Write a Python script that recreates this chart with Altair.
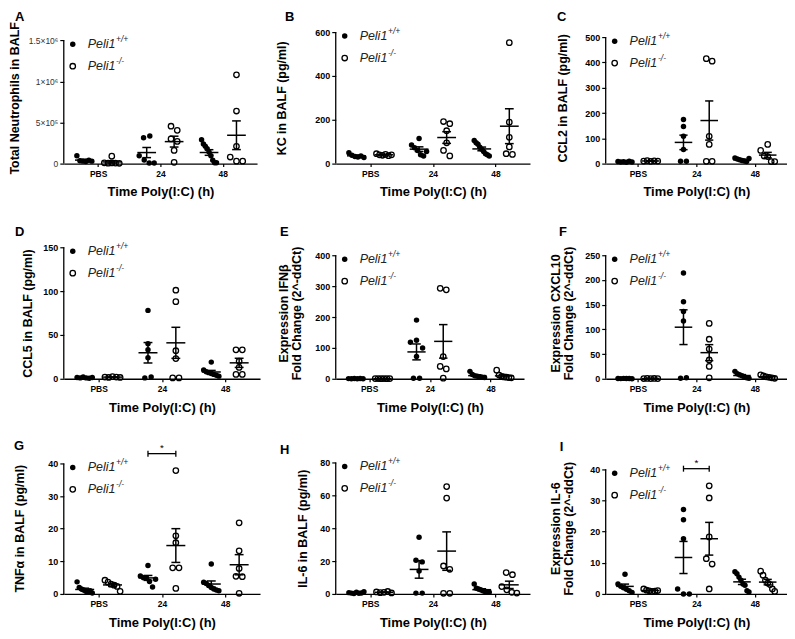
import altair as alt
import pandas as pd
import numpy as np

FONT = "Liberation Sans"
GROUPS = ["PBS", "24", "48"]

# ---- data: wild type = Peli1+/+, knockout = Peli1-/- ----
A_WT = {"PBS": [95000, 35000, 30000, 25000, 40000, 30000],
        "24": [315000, 335000, 95000, 45000, 8000, 8000],
        "48": [290000, 240000, 210000, 180000, 140000, 95000, 40000, 10000, 10000]}
A_KO = {"PBS": [90000, 10000, 5000, 8000, 6000, 4000],
        "24": [455000, 405000, 300000, 270000, 160000, 15000],
        "48": [1080000, 640000, 210000, 80000, 30000, 30000]}

B_WT = {"PBS": [50, 38, 32, 30, 35, 28],
        "24": [115, 85, 72, 60, 40, 35, 55],
        "48": [105, 95, 88, 75, 65, 55, 45, 40, 35]}
B_KO = {"PBS": [45, 40, 38, 42, 36, 40],
        "24": [192, 182, 150, 95, 60, 35],
        "48": [552, 189, 120, 76, 45, 42]}

C_WT = {"PBS": [8, 6, 7, 5, 9, 6],
        "24": [174, 147, 108, 56, 9, 9],
        "48": [22, 18, 15, 12, 10, 8, 20]}
C_KO = {"PBS": [10, 12, 9, 11, 10],
        "24": [415, 405, 108, 76, 9, 9],
        "48": [76, 52, 30, 28, 8, 8]}

D_WT = {"PBS": [1.5, 1, 2, 1, 0.5, 1.5],
        "24": [78, 40, 33, 24, 1, 2],
        "48": [19, 10, 8, 7, 6, 5, 4, 3]}
D_KO = {"PBS": [2, 1.5, 2.5, 2, 1.5],
        "24": [101, 88, 32, 23, 1, 1],
        "48": [33, 33, 20, 13, 5, 5]}

E_WT = {"PBS": [0.5, 0.3, 0.8, 0.4, 0.6, 0.2],
        "24": [190, 118, 125, 100, 72, 2, 2],
        "48": [24, 14, 10, 8, 6, 5, 4]}
E_KO = {"PBS": [0.5, 0.8, 0.4, 0.6, 0.3, 0.7],
        "24": [293, 288, 72, 40, 32, 2],
        "48": [28, 12, 8, 6, 5, 4, 3]}

F_WT = {"PBS": [0.5, 0.3, 0.8, 0.4, 0.6, 0.2],
        "24": [214, 156, 136, 117, 1, 2],
        "48": [15, 10, 8, 6, 4, 2, 1]}
F_KO = {"PBS": [0.5, 0.8, 0.4, 0.6, 0.3],
        "24": [112, 80, 60, 38, 25, 2],
        "48": [8, 6, 4, 3, 2, 1]}

G_WT = {"PBS": [3.7, 2.0, 1.5, 1.2, 0.8, 0.5, 1.0, 0.3],
        "24": [8.7, 5.5, 5.0, 4.8, 3.8, 2.1, 4.5],
        "48": [9.2, 3.6, 3.2, 2.6, 2.0, 1.5, 1.2, 1.0]}
G_KO = {"PBS": [4.2, 3.6, 3.0, 2.7, 2.3, 0.8],
        "24": [37.8, 17.8, 15.7, 8.0, 8.0, 1.7],
        "48": [21.8, 13.2, 7.8, 5.4, 5.3, 0.2]}

H_WT = {"PBS": [0.8, 0.5, 0.3, 1.0, 0.4, 0.6, 1.3],
        "24": [34.5, 20.5, 19.5, 14.0, 0.5, 0.5],
        "48": [6, 3.5, 3, 2.5, 2, 1.5, 1.2, 1]}
H_KO = {"PBS": [1.2, 0.8, 1.0, 1.5, 0.6],
        "24": [65.3, 58.3, 17, 15, 0.4, 0.4],
        "48": [13, 11.7, 4.5, 2.5, 1.0, 0.5]}

I_WT = {"PBS": [6.3, 3.2, 2.5, 2.0, 1.5, 1.0, 0.5],
        "24": [27.1, 23.8, 17.7, 1.6, 0, 0],
        "48": [7.1, 6.5, 5.4, 4.4, 3.2, 2.8, 1.0, 0.6]}
I_KO = {"PBS": [1.6, 1.2, 1.0, 0.8, 0.9, 1.1],
        "24": [34.7, 30.8, 18.3, 11.3, 9.6, 1.6],
        "48": [7.3, 6.0, 4.4, 3.5, 3.0, 1.6, 0.8]}

A_TICKS = [0, 500000, 1000000, 1500000]
A_TICK_LABELS = ["0", "5×10⁵", "1×10⁶", "1.5×10⁶"]
B_TICKS = [0, 200, 400, 600]
C_TICKS = [0, 100, 200, 300, 400, 500]
D_TICKS = [0, 50, 100, 150]
E_TICKS = [0, 100, 200, 300, 400]
F_TICKS = [0, 50, 100, 150, 200, 250]
G_TICKS = [0, 10, 20, 30, 40]
H_TICKS = [0, 20, 40, 60, 80]
I_TICKS = [0, 10, 20, 30, 40]

# significance brackets: (time point, bracket height)
G_SIG = ("24", 43)
I_SIG = ("24", 40.2)

# ---- layout ----
H = 132
OFF = 0.22
XDOM = [-0.55, 2.55]
XEXPR = " : ".join(f"datum.value == {i} ? '{g}'" for i, g in enumerate(GROUPS[:-1])) + f" : '{GROUPS[-1]}'"


def swarm(vals, thr, step=0.1, maxspread=0.24):
    order = sorted(range(len(vals)), key=lambda i: vals[i])
    clusters = []
    for i in order:
        if clusters and vals[i] - vals[clusters[-1][-1]] < thr:
            clusters[-1].append(i)
        else:
            clusters.append([i])
    off = [0.0] * len(vals)
    for cl in clusters:
        k = len(cl)
        if k == 1:
            continue
        st = min(step, maxspread / (k - 1))
        for j, i in enumerate(sorted(cl)):
            off[i] = (j - (k - 1) / 2) * st
    return off


def one(t):
    return pd.DataFrame({"t": [t]})


def make_panel(letter, wt, ko, ytitle, ticks, ymax, width, tpad, ldx, ldy,
               sig=None, tick_labels=None, ylab_size=9, ylab_weight="bold"):
    xs = alt.Scale(domain=XDOM, nice=False, zero=False)
    ys = alt.Scale(domain=[0, ymax], nice=False, zero=True)
    thr = ymax * 6.0 / H
    rows, segs = [], []
    for gi, g in enumerate(GROUPS):
        for geno, data, s in (("wt", wt, -1), ("ko", ko, 1)):
            v = data[g]
            c = gi + s * OFF
            for o, y in zip(swarm(v, thr), v):
                rows.append({"x": c + o, "y": y, "geno": geno})
            m = float(np.mean(v))
            e = float(np.std(v, ddof=1) / np.sqrt(len(v)))
            segs += [(c - 0.15, c + 0.15, m, m), (c, c, m - e, m + e),
                     (c - 0.07, c + 0.07, m + e, m + e), (c - 0.07, c + 0.07, m - e, m - e)]
    df = pd.DataFrame(rows)
    seg = pd.DataFrame(segs, columns=["xa", "xb", "ya", "yb"])

    xaxis = alt.Axis(values=[0, 1, 2], labelExpr=XEXPR, title="Time Poly(I:C) (h)")
    ykw = dict(values=ticks, title=ytitle, titlePadding=tpad, domain=False,
               labelFontSize=ylab_size, labelFontWeight=ylab_weight)
    if tick_labels:
        ykw["labelExpr"] = " : ".join(f"datum.value == {t} ? '{l}'" for t, l in zip(ticks[:-1], tick_labels[:-1])) + f" : '{tick_labels[-1]}'"
        ykw["labelColor"] = "#333"
    yaxis = alt.Axis(**ykw)

    def X(f):
        return alt.X(f, scale=xs, axis=xaxis)

    def Y(f):
        return alt.Y(f, scale=ys, axis=yaxis)

    base = alt.Chart(df)
    wt_l = base.transform_filter("datum.geno == 'wt'").mark_point(
        filled=True, size=30, color="black", opacity=1).encode(x=X("x:Q"), y=Y("y:Q"))
    ko_l = base.transform_filter("datum.geno == 'ko'").mark_point(
        filled=False, size=30, color="black", strokeWidth=1.3, opacity=1).encode(x=X("x:Q"), y=Y("y:Q"))
    err = alt.Chart(seg).mark_rule(color="black", strokeWidth=1.5).encode(
        x=X("xa:Q"), x2="xb:Q", y=Y("ya:Q"), y2="yb:Q")
    yline = alt.Chart(pd.DataFrame({"a": [0.0], "b": [float(ticks[-1])]})).mark_rule(
        color="black", strokeWidth=1.3).encode(x=alt.value(0), y=Y("a:Q"), y2="b:Q")

    layers = [wt_l, ko_l, err, yline]

    # legend
    top_px = H * (1 - ticks[-1] / ymax)
    for i, (filled, sup) in enumerate([(True, "+/+"), (False, "-/-")]):
        ly = top_px + 4 + 22 * i
        layers.append(alt.Chart(one("m")).mark_point(
            filled=filled, size=30, color="black", strokeWidth=1.3, opacity=1).encode(
            x=alt.value(9), y=alt.value(ly)))
        layers.append(alt.Chart(one("Peli1")).mark_text(
            align="left", baseline="middle", fontStyle="italic", fontSize=12.5,
            font=FONT, color="#222").encode(x=alt.value(24), y=alt.value(ly), text="t:N"))
        layers.append(alt.Chart(one(sup)).mark_text(
            align="left", baseline="middle", fontStyle="italic", fontSize=8.5,
            font=FONT, color="#222").encode(x=alt.value(24 + 28.5), y=alt.value(ly - 5), text="t:N"))

    # significance bracket
    if sig:
        g, yv = sig
        c = GROUPS.index(g)
        d = ymax * 3.0 / H
        bs = pd.DataFrame([(c - OFF, c + OFF, yv, yv), (c - OFF, c - OFF, yv - d, yv + d),
                           (c + OFF, c + OFF, yv - d, yv + d)], columns=["xa", "xb", "ya", "yb"])
        layers.append(alt.Chart(bs).mark_rule(color="black", strokeWidth=1.3).encode(
            x=X("xa:Q"), x2="xb:Q", y=Y("ya:Q"), y2="yb:Q"))
        layers.append(alt.Chart(pd.DataFrame({"x": [float(c)], "y": [yv], "t": ["*"]})).mark_text(
            fontSize=10, font=FONT, color="black", dy=-6).encode(
            x=X("x:Q"), y=Y("y:Q"), text="t:N"))

    layers.append(alt.Chart(one(letter)).mark_text(
        align="left", baseline="top", fontSize=13, fontWeight="bold", font=FONT,
        color="black").encode(x=alt.value(ldx), y=alt.value(ldy), text="t:N"))

    return alt.layer(*layers).properties(width=width, height=H)


panels = [
    make_panel("A", A_WT, A_KO, "Total Neutrophils in BALF", A_TICKS, 1600000, 194, 7, -49, -21,
               tick_labels=A_TICK_LABELS, ylab_size=8.5, ylab_weight="normal"),
    make_panel("B", B_WT, B_KO, "KC in BALF (pg/ml)", B_TICKS, 600, 195, 26, -51, -21),
    make_panel("C", C_WT, C_KO, "CCL2 in BALF (pg/ml)", C_TICKS, 520, 182, 15, -49, -21),
    make_panel("D", D_WT, D_KO, "CCL5 in BALF (pg/ml)", D_TICKS, 150, 197, 8, -49, -21),
    make_panel("E", E_WT, E_KO, ["Expression IFNβ", "Fold Change (2^-ddCt)"], E_TICKS, 426, 189, 11, -56, -21),
    make_panel("F", F_WT, F_KO, ["Expression CXCL10", "Fold Change (2^-ddCt)"], F_TICKS, 266, 182, 9, -47, -21),
    make_panel("G", G_WT, G_KO, "TNFα in BALF (pg/ml)", G_TICKS, 40.3, 197, 21, -50, -22, sig=G_SIG),
    make_panel("H", H_WT, H_KO, "IL-6 in BALF (pg/ml)", H_TICKS, 80, 195, 10, -56, -18),
    make_panel("I", I_WT, I_KO, ["Expression IL-6", "Fold Change (2^-ddCt)"], I_TICKS, 42.2, 182, 14, -46, -21, sig=I_SIG),
]

chart = alt.concat(*panels, columns=3, spacing={"row": 84, "column": 76}, bounds="flush").properties(
    padding={"left": 0, "top": 2, "right": 0, "bottom": 0}
).configure_axis(
    labelFont=FONT, titleFont=FONT, labelColor="black", titleColor="black",
    tickColor="black", domainColor="black", grid=False, titleFontSize=12.5,
    titleFontWeight="bold", labelFontWeight="bold", titleLineHeight=13,
).configure_axisX(
    labelFontSize=8.5, tickSize=3, labelPadding=3, titlePadding=8, domainWidth=1.3, tickWidth=1.2,
    labelAngle=0, titleFontSize=13,
).configure_axisY(
    tickSize=4, labelPadding=2, tickWidth=1.2,
).configure_view(stroke=None)

chart.save("out.html", embed_options={"renderer": "svg", "actions": False})
